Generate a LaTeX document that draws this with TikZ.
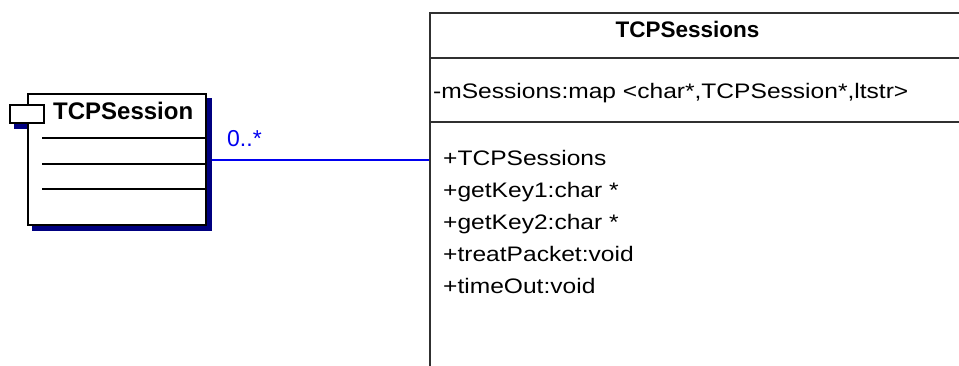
\documentclass[tikz,border=0pt]{standalone}
\usepackage{fontspec}
\setmainfont{Liberation Sans}
\newfontfamily\memberfont[FakeStretch=1.17]{Liberation Sans}
\usetikzlibrary{backgrounds}

\definecolor{navyshadow}{RGB}{0,0,128}
\definecolor{rulegray}{RGB}{48,48,48}
\definecolor{assocblue}{RGB}{0,0,240}

\tikzset{
  classframe/.style={draw=rulegray, line width=2pt, fill=white, inner sep=0pt, anchor=north west},
  compframe/.style={draw=black, line width=2pt, fill=white, inner sep=0pt, anchor=north west},
  rule/.style={draw=rulegray, line width=2pt},
  slot/.style={draw=black, line width=2pt},
  shadowfill/.style={fill=navyshadow},
  assoc/.style={draw=assocblue, line width=1.5pt},
  bigtitle/.style={inner sep=0pt, anchor=base west, font=\fontsize{24}{28}\selectfont\bfseries},
  classtitle/.style={inner sep=0pt, anchor=base, font=\fontsize{22.5}{26}\selectfont\bfseries},
  member/.style={inner sep=0pt, anchor=base west, font=\fontsize{21}{25}\memberfont},
  multiplicity/.style={inner sep=0pt, anchor=base west, text=assocblue, font=\fontsize{23}{27}\selectfont},
}

\begin{document}
\begin{tikzpicture}[x=1pt, y=-1pt]
\useasboundingbox (0,0) rectangle (959,365);
\clip (0,0) rectangle (959,365);

% ---- class TCPSessions (runs on past the right and bottom edges)
\node[classframe, minimum width=560pt, minimum height=420pt] (sessions) at (429,12) {};
\draw[rule] ([yshift=-46pt]sessions.north west) -- ([yshift=-46pt]sessions.north east);
\draw[rule] ([yshift=-110pt]sessions.north west) -- ([yshift=-110pt]sessions.north east);
\node[classtitle] (sessionsname) at (687.5,37.5) {TCPSessions};
\node[member] (attr) at (433,98) {-mSessions:map <char*,TCPSession*,ltstr>};
\node[member] (op1) at (443,165) {+TCPSessions};
\node[member] (op2) at (443,197) {+getKey1:char *};
\node[member] (op3) at (443,229) {+getKey2:char *};
\node[member] (op4) at (443,261.5) {+treatPacket:void};
\node[member] (op5) at (443,293.5) {+timeOut:void};

% ---- component TCPSession
\node[compframe, minimum width=178pt, minimum height=131pt] (session) at (27,93) {};
\coordinate (slotstart) at (42,0);
\draw[slot] (slotstart |- 0,138) -- (session.east |- 0,138);
\draw[slot] (slotstart |- 0,164) -- (session.east |- 0,164);
\draw[slot] (slotstart |- 0,189) -- (session.east |- 0,189);
\node[bigtitle] (sessionname) at (53,119.5) {TCPSession};
\node[compframe, minimum width=34pt, minimum height=18pt] (tab) at (9,104) {};

% ---- association and shadows, behind the frames
\coordinate (assocy) at (0,160);
\begin{pgfonlayer}{background}
  \draw[assoc] (session.east |- assocy) -- (sessions.west |- assocy);
  \fill[shadowfill] ([shift={(5pt,-5pt)}]session.south west) rectangle ([shift={(5pt,-5pt)}]session.north east);
  \fill[shadowfill] ([shift={(5pt,-5pt)}]tab.south west) rectangle ([shift={(5pt,-5pt)}]tab.north east);
\end{pgfonlayer}
\node[multiplicity] (mult) at (227,146) {0..*};
\end{tikzpicture}
\end{document}
